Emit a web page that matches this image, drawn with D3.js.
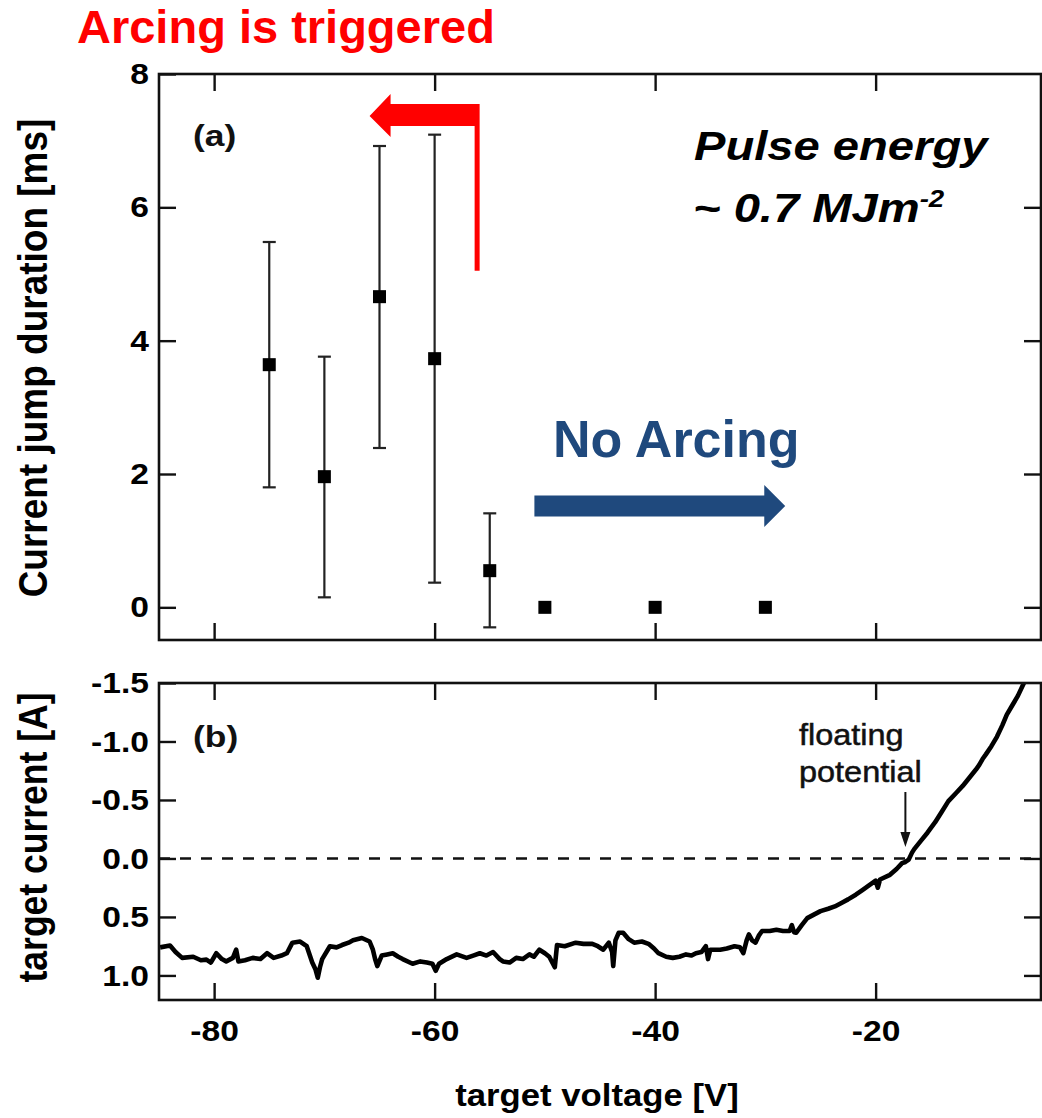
<!DOCTYPE html>
<html>
<head>
<meta charset="utf-8">
<script src="https://cdn.jsdelivr.net/npm/d3@7"></script>
<style>
  html, body { margin: 0; padding: 0; background: #fff; }
  svg { display: block; }
  text { font-family: "Liberation Sans", Arial, Helvetica, sans-serif; }
</style>
</head>
<body>
<svg id="chart" width="1042" height="1118"></svg>
<script>
// ---------------- data ----------------
// panel (a): current jump duration vs target voltage
const jumpVoltage  = [-75, -70, -65, -60, -55, -50, -40, -30];
const jumpDuration = [3.64, 1.96, 4.66, 3.73, 0.55, 0, 0, 0];
const jumpErrLow   = [1.80, 0.15, 2.39, 0.37, -0.30, null, null, null];
const jumpErrHigh  = [5.48, 3.76, 6.92, 7.09, 1.41, null, null, null];

// panel (b): target current vs target voltage (I-V trace)
const traceVoltage = [-84.9,-84.0,-83.5,-82.9,-81.9,-81.2,-80.7,-80.3,-79.8,-79.3,-78.9,-78.3,-78.0,-77.8,-77.2,-76.5,-75.8,-75.2,-74.6,-73.9,-73.4,-72.9,-72.2,-71.6,-71.1,-70.8,-70.6,-70.4,-70.2,-69.5,-68.9,-68.4,-67.8,-67.4,-66.6,-65.9,-65.6,-65.4,-65.2,-64.8,-64.3,-63.8,-63.3,-62.9,-62.0,-61.3,-60.7,-60.2,-59.9,-59.6,-58.9,-58.0,-57.1,-56.5,-55.9,-55.3,-54.7,-54.1,-53.8,-53.2,-52.6,-52.0,-51.4,-51.0,-50.5,-50.0,-49.6,-49.1,-48.9,-48.2,-47.2,-46.5,-45.7,-45.2,-44.7,-44.2,-43.9,-43.8,-43.6,-43.3,-42.9,-42.4,-41.9,-41.2,-40.6,-40.1,-39.7,-39.0,-38.4,-37.8,-37.2,-36.7,-36.3,-35.8,-35.4,-35.2,-35.0,-34.1,-33.5,-32.8,-32.3,-32.0,-31.7,-31.5,-31.2,-30.9,-30.6,-30.3,-29.6,-29.0,-28.4,-27.8,-27.6,-27.4,-27.2,-26.7,-26.2,-25.6,-25.0,-24.3,-23.7,-23.1,-22.5,-21.8,-21.2,-20.6,-20.0,-19.8,-19.6,-18.7,-18.1,-17.6,-17.3,-17.0,-16.7,-16.5,-15.9,-15.3,-14.6,-14.0,-13.4,-12.7,-12.1,-11.5,-10.9,-10.6,-10.3,-10.0,-9.5,-9.0,-8.5,-8.1,-7.6,-7.1,-6.5,-6.0];
const traceCurrent = [0.76,0.745,0.80,0.85,0.84,0.87,0.865,0.89,0.81,0.86,0.88,0.85,0.78,0.88,0.87,0.85,0.86,0.81,0.85,0.83,0.81,0.72,0.71,0.75,0.89,0.95,1.02,0.93,0.86,0.75,0.76,0.74,0.72,0.70,0.68,0.71,0.78,0.86,0.92,0.83,0.82,0.81,0.84,0.86,0.90,0.88,0.89,0.90,0.96,0.90,0.86,0.82,0.85,0.83,0.81,0.83,0.80,0.86,0.88,0.89,0.85,0.86,0.82,0.84,0.78,0.81,0.84,0.93,0.74,0.75,0.72,0.73,0.73,0.75,0.78,0.72,0.80,0.92,0.70,0.635,0.635,0.69,0.72,0.71,0.73,0.77,0.81,0.84,0.85,0.84,0.82,0.83,0.81,0.80,0.75,0.86,0.78,0.78,0.77,0.75,0.76,0.81,0.70,0.65,0.70,0.72,0.66,0.62,0.62,0.61,0.62,0.62,0.57,0.63,0.635,0.57,0.51,0.48,0.45,0.43,0.41,0.38,0.35,0.31,0.27,0.23,0.19,0.25,0.18,0.14,0.09,0.04,0.03,0.01,-0.05,-0.08,-0.15,-0.22,-0.31,-0.40,-0.49,-0.56,-0.62,-0.69,-0.76,-0.80,-0.85,-0.89,-0.96,-1.04,-1.14,-1.23,-1.31,-1.39,-1.51,-1.62];

// ticks
const xTickValues    = [-80, -60, -40, -20];
const topYTickValues = [0, 2, 4, 6, 8];
const botYTickValues = [-1.5, -1.0, -0.5, 0.0, 0.5, 1.0];

// texts
const topYTitle = "Current jump duration [ms]";
const botYTitle = "target current [A]";
const xTitle    = "target voltage [V]";

// ---------------- layout ----------------
const svg = d3.select("#chart");
const L = 159, R = 1041;
const topPanel = {t: 74, b: 640};
const botPanel = {t: 683, b: 1000};
const FONT = '"Liberation Sans", Arial, Helvetica, sans-serif';
const SX = 1.12; // horizontal stretch of original figure lettering

const x = d3.scaleLinear().domain([-85, -5]).range([L, R]);
const yTop = d3.scaleLinear().domain([-0.49, 8]).range([topPanel.b, topPanel.t]);
const yBot = d3.scaleLinear().domain([-1.5, 1.21]).range([botPanel.t, botPanel.b]);

const TICK = 17;
function styleAxis(g) {
  g.select(".domain").remove();
  g.selectAll(".tick line").attr("stroke", "#111").attr("stroke-width", 2.4);
  g.selectAll("text").attr("fill", "#000")
    .style("font-family", FONT).style("font-weight", "bold").style("font-size", "30px");
}

// ---------- panel (a) ----------
const gA = svg.append("g");
gA.append("g").attr("transform", `translate(${L},0)`)
  .call(d3.axisLeft(yTop).tickValues(topYTickValues).tickSizeInner(-TICK).tickSizeOuter(0).tickPadding(9).tickFormat(d => String(d)))
  .call(styleAxis)
  .call(g => g.selectAll("text").attr("transform", `scale(${SX},1)`));
gA.append("g").attr("transform", `translate(${R},0)`)
  .call(d3.axisRight(yTop).tickValues(topYTickValues.slice(0, 4)).tickSizeInner(-TICK).tickSizeOuter(0).tickFormat(""))
  .call(styleAxis);
gA.append("g").attr("transform", `translate(0,${topPanel.t})`)
  .call(d3.axisTop(x).tickValues(xTickValues).tickSizeInner(-TICK).tickSizeOuter(0).tickFormat(""))
  .call(styleAxis);
gA.append("g").attr("transform", `translate(0,${topPanel.b})`)
  .call(d3.axisBottom(x).tickValues(xTickValues).tickSizeInner(-TICK).tickSizeOuter(0).tickFormat(""))
  .call(styleAxis);
gA.append("rect").attr("x", L).attr("y", topPanel.t).attr("width", R - L).attr("height", topPanel.b - topPanel.t)
  .attr("fill", "none").attr("stroke", "#111").attr("stroke-width", 2.6);

const pts = jumpVoltage.map((v, i) => ({v, d: jumpDuration[i], lo: jumpErrLow[i], hi: jumpErrHigh[i]}));
const eb = gA.append("g").attr("stroke", "#222").attr("stroke-width", 2.2);
pts.filter(p => p.lo !== null).forEach(p => {
  eb.append("line").attr("x1", x(p.v)).attr("x2", x(p.v)).attr("y1", yTop(p.lo)).attr("y2", yTop(p.hi));
  [p.lo, p.hi].forEach(e => eb.append("line").attr("x1", x(p.v) - 6.5).attr("x2", x(p.v) + 6.5).attr("y1", yTop(e)).attr("y2", yTop(e)));
});
gA.append("g").selectAll("rect").data(pts).join("rect")
  .attr("x", p => x(p.v) - 6.5).attr("y", p => yTop(p.d) - 6.5)
  .attr("width", 13).attr("height", 13).attr("fill", "#000");

gA.append("text").attr("transform", `translate(193,146) scale(1.18,1)`)
  .style("font-family", FONT).style("font-weight", "bold").style("font-size", "30px").attr("fill", "#111").text("(a)");

// ---------- panel (b) ----------
const gB = svg.append("g");
gB.append("g").attr("transform", `translate(${L},0)`)
  .call(d3.axisLeft(yBot).tickValues(botYTickValues).tickSizeInner(-TICK).tickSizeOuter(0).tickPadding(9).tickFormat(d => d.toFixed(1)))
  .call(styleAxis)
  .call(g => g.selectAll("text").attr("transform", `scale(${SX},1)`));
gB.append("g").attr("transform", `translate(${R},0)`)
  .call(d3.axisRight(yBot).tickValues(botYTickValues.slice(1)).tickSizeInner(-TICK).tickSizeOuter(0).tickFormat(""))
  .call(styleAxis);
gB.append("g").attr("transform", `translate(0,${botPanel.t})`)
  .call(d3.axisTop(x).tickValues(xTickValues).tickSizeInner(-TICK).tickSizeOuter(0).tickFormat(""))
  .call(styleAxis);
gB.append("g").attr("transform", `translate(0,${botPanel.b})`)
  .call(d3.axisBottom(x).tickValues(xTickValues).tickSizeInner(-TICK).tickSizeOuter(0).tickPadding(20).tickFormat(d => String(d)))
  .call(styleAxis)
  .call(g => g.selectAll("text").attr("transform", `scale(${SX},1)`).attr("x", 0));

// zero dashed line
gB.append("line").attr("x1", L).attr("x2", R).attr("y1", yBot(0)).attr("y2", yBot(0))
  .attr("stroke", "#111").attr("stroke-width", 2.4).attr("stroke-dasharray", "11,10");

svg.append("defs").append("clipPath").attr("id", "clipB")
  .append("rect").attr("x", L).attr("y", botPanel.t).attr("width", R - L).attr("height", botPanel.b - botPanel.t);

const trace = traceVoltage.map((v, i) => [v, traceCurrent[i]]);
gB.append("path").datum(trace)
  .attr("clip-path", "url(#clipB)")
  .attr("d", d3.line().x(d => x(d[0])).y(d => yBot(d[1])))
  .attr("fill", "none").attr("stroke", "#000").attr("stroke-width", 4.6).attr("stroke-linejoin", "round");

gB.append("rect").attr("x", L).attr("y", botPanel.t).attr("width", R - L).attr("height", botPanel.b - botPanel.t)
  .attr("fill", "none").attr("stroke", "#111").attr("stroke-width", 2.6);

gB.append("text").attr("transform", `translate(193,747) scale(1.18,1)`)
  .style("font-family", FONT).style("font-weight", "bold").style("font-size", "30px").attr("fill", "#111").text("(b)");

// floating potential annotation
const fp = gB.append("g").style("font-family", FONT).style("font-size", "29px").attr("fill", "#111")
  .attr("stroke", "#111").attr("stroke-width", 0.5);
fp.append("text").attr("transform", `translate(799,745) scale(${SX},1)`).text("floating");
fp.append("text").attr("transform", `translate(799,782) scale(${SX},1)`).text("potential");
const fpX = x(-17.3);
gB.append("line").attr("x1", fpX).attr("x2", fpX).attr("y1", 792).attr("y2", 834)
  .attr("stroke", "#111").attr("stroke-width", 2);
gB.append("path").attr("d", `M${fpX - 5},832 L${fpX + 5},832 L${fpX},847 Z`).attr("fill", "#111");

// ---------- axis titles ----------
svg.append("text").attr("transform", `translate(47,${(topPanel.t + topPanel.b) / 2 + 1}) scale(${SX},1) rotate(-90)`)
  .attr("text-anchor", "middle").style("font-family", FONT).style("font-weight", "bold").style("font-size", "37px")
  .attr("fill", "#000").text(topYTitle);
svg.append("text").attr("transform", `translate(47,${(botPanel.t + botPanel.b) / 2 - 4}) scale(${SX},1) rotate(-90)`)
  .attr("text-anchor", "middle").style("font-family", FONT).style("font-weight", "bold").style("font-size", "35.5px")
  .attr("fill", "#000").text(botYTitle);
svg.append("text").attr("transform", `translate(${(456 + 738) / 2},1106) scale(${SX},1)`)
  .attr("text-anchor", "middle").style("font-family", FONT).style("font-weight", "bold").style("font-size", "31px")
  .attr("fill", "#000").text(xTitle);

// ---------- overlay annotations ----------
svg.append("text").attr("x", 77).attr("y", 43)
  .style("font-family", FONT).style("font-weight", "bold").style("font-size", "47px")
  .attr("fill", "#ff0000").text("Arcing is triggered");

// red elbow arrow
const rx = x(-56.1), rTop = yTop(7.55), rBot = yTop(5.05), rTip = x(-65.9);
svg.append("path")
  .attr("d", `M${rx + 2},${rBot} L${rx + 2},${rTop} L${rTip + 21},${rTop} L${rTip + 21},${rTop - 10} L${rTip},${rTop + 12} L${rTip + 21},${rTop + 33} L${rTip + 21},${rTop + 22} L${rx - 3},${rTop + 22} L${rx - 3},${rBot} Z`)
  .attr("fill", "#ff0000");

const pe = svg.append("g").style("font-family", FONT).style("font-weight", "bold").style("font-style", "italic").attr("fill", "#000");
pe.append("text").attr("transform", `translate(694,160) scale(1.15,1)`).style("font-size", "41px").text("Pulse energy");
const pe2 = pe.append("text").attr("transform", `translate(693,222) scale(1.15,1)`).style("font-size", "41px");
pe2.append("tspan").text("~ 0.7 MJm");
pe2.append("tspan").attr("dy", -15).style("font-size", "24px").text("-2");

svg.append("text").attr("x", 553).attr("y", 457)
  .style("font-family", FONT).style("font-weight", "bold").style("font-size", "52px")
  .attr("fill", "#1f497d").text("No Arcing");

// blue arrow
const bx0 = x(-50.95), bx1 = x(-30.1), bTip = x(-28.2), by = yTop(1.52);
svg.append("path")
  .attr("d", `M${bx0},${by - 10.5} L${bx1},${by - 10.5} L${bx1},${by - 21} L${bTip},${by} L${bx1},${by + 21} L${bx1},${by + 10.5} L${bx0},${by + 10.5} Z`)
  .attr("fill", "#1f497d");
</script>
</body>
</html>
